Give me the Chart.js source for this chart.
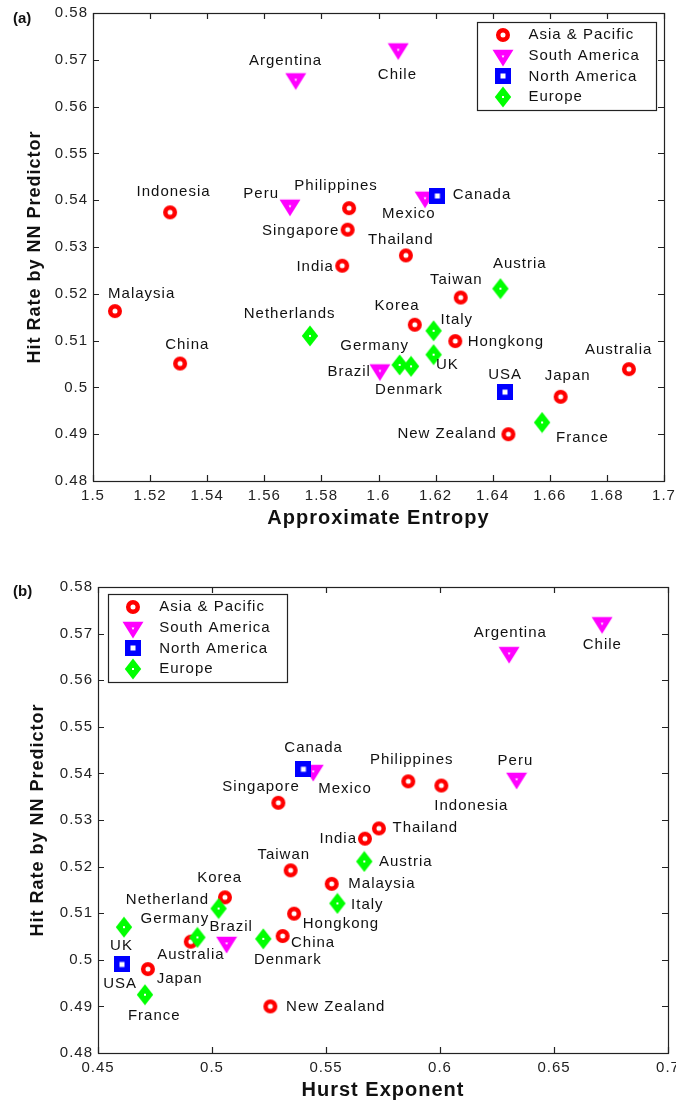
<!DOCTYPE html>
<html><head><meta charset="utf-8">
<script src="https://cdn.jsdelivr.net/npm/chart.js@4.4.1/dist/chart.umd.min.js"></script>
<style>
html,body{margin:0;padding:0;background:#fff;}
.wrap{position:relative;width:676px;height:552px;}
canvas{display:block;}
</style></head><body>
<div class="wrap"><canvas id="ca" width="676" height="552"></canvas></div>
<div class="wrap"><canvas id="cb" width="676" height="552"></canvas></div>
<script>
// ---------------- DATA ----------------
const asiaNames  = ['Indonesia','Malaysia','China','Philippines','Singapore','India','Thailand','Taiwan','Korea','Hongkong','Australia','Japan','New Zealand'];
const asiaHit    = [0.5374,0.5163,0.5051,0.5383,0.5337,0.5260,0.5282,0.5192,0.5134,0.5099,0.5039,0.4980,0.4900];
const asiaApEn   = [1.5270,1.5077,1.5305,1.5897,1.5892,1.5873,1.6096,1.6288,1.6127,1.6269,1.6877,1.6638,1.6455];
const asiaHurst  = [0.6006,0.5525,0.5310,0.5861,0.5291,0.5671,0.5732,0.5345,0.5057,0.5360,0.4907,0.4719,0.5256];

const saNames    = ['Argentina','Chile','Peru','Mexico','Brazil'];
const saHit      = [0.5656,0.5720,0.5386,0.5403,0.5034];
const saApEn     = [1.5710,1.6069,1.5690,1.6163,1.6005];
const saHurst    = [0.6303,0.6711,0.6336,0.5444,0.5064];

const naNames    = ['Canada','USA'];
const naHit      = [0.5409,0.4990];
const naApEn     = [1.6206,1.6443];
const naHurst    = [0.5401,0.4605];

const euNames    = ['Austria','Netherlands','Italy','UK','Germany','Denmark','France'];
const euNamesB   = ['Austria','Netherland','Italy','UK','Germany','Denmark','France'];
const euHit      = [0.5211,0.5110,0.5121,0.5070,0.5048,0.5045,0.4925];
const euApEn     = [1.6427,1.5760,1.6193,1.6193,1.6074,1.6114,1.6573];
const euHurst    = [0.5668,0.5029,0.5550,0.4614,0.4936,0.5225,0.4706];

const regionNames = ['Asia & Pacific','South America','North America','Europe'];

const xTicksA      = [1.5,1.52,1.54,1.56,1.58,1.6,1.62,1.64,1.66,1.68,1.7];
const xTickLabelsA = ['1.5','1.52','1.54','1.56','1.58','1.6','1.62','1.64','1.66','1.68','1.7'];
const xTicksB      = [0.45,0.5,0.55,0.6,0.65,0.7];
const xTickLabelsB = ['0.45','0.5','0.55','0.6','0.65','0.7'];
const yTicks       = [0.48,0.49,0.5,0.51,0.52,0.53,0.54,0.55,0.56,0.57,0.58];
const yTickLabels  = ['0.48','0.49','0.5','0.51','0.52','0.53','0.54','0.55','0.56','0.57','0.58'];

// ---------------- LABEL PLACEMENT (pixel offsets from the mark) ----------------
const labelPosA = {
  'Argentina':[-10.7,-20,'c'],'Chile':[-1.3,24.7,'c'],'Indonesia':[3,-20.3,'c'],'Peru':[-12,-12.7,'r'],
  'Philippines':[-13.5,-21.8,'c'],'Singapore':[-9.4,1.2,'r'],'Mexico':[-16.7,15,'c'],'Canada':[15.4,-1.2,'l'],
  'Thailand':[-5.7,-15.6,'c'],'India':[-9.3,0.8,'r'],'Malaysia':[26.2,-16.8,'c'],'China':[6.7,-18.2,'c'],
  'Netherlands':[-20.8,-22,'c'],'Taiwan':[-4.9,-17.8,'c'],'Austria':[18.9,-24.3,'c'],'Korea':[-18.2,-19,'c'],
  'Italy':[7,-11,'l'],'Hongkong':[12.4,1,'l'],'Germany':[-25.5,-18.9,'c'],'UK':[2.3,10,'l'],
  'Brazil':[-10,0.3,'r'],'Denmark':[-2.5,23.7,'c'],'USA':[-0.3,-17.2,'c'],'Japan':[6.5,-21.2,'c'],
  'Australia':[-10.7,-19.7,'c'],'New Zealand':[-12.6,-0.8,'r'],'France':[14,15,'l']
};
const labelPosB = {
  'Canada':[9.7,-21.8,'c'],'Singapore':[-17.8,-15.5,'c'],'Mexico':[5,17,'l'],'Argentina':[0.7,-21.2,'c'],
  'Chile':[-0.3,20.4,'c'],'Philippines':[2.9,-21.3,'c'],'Indonesia':[29.5,20.5,'c'],'Peru':[-1.7,-18.8,'c'],
  'Thailand':[13.7,-0.7,'l'],'Taiwan':[-7.4,-15.8,'c'],'Korea':[-5.8,-19,'c'],'Netherland':[-10.4,-9.1,'r'],
  'Germany':[-23.1,-18.1,'c'],'Brazil':[4.1,-17.5,'c'],'UK':[-3,18.5,'c'],'Australia':[-0.4,12.9,'c'],
  'USA':[-2.3,19.5,'c'],'Japan':[8.7,9.5,'l'],'France':[8.8,21.2,'c'],'Denmark':[24,21.5,'c'],
  'China':[8.3,7.2,'l'],'Hongkong':[8.7,10.2,'l'],'New Zealand':[15.7,0.3,'l'],'India':[-9,0,'r'],
  'Austria':[14.7,0,'l'],'Malaysia':[16.6,0.5,'l'],'Italy':[13.7,1.8,'l']
};

// ---------------- MARKERS ----------------
function mk(w,h,draw){const c=document.createElement('canvas');c.width=w;c.height=h;draw(c.getContext('2d'));return c;}
const mCircle = mk(16,16,g=>{g.strokeStyle='#ff0000';g.lineWidth=4.5;g.beginPath();g.arc(8,8,4.75,0,Math.PI*2);g.stroke();});
const mTri = mk(22,22,g=>{g.fillStyle='#ff00ff';g.beginPath();g.moveTo(0.5,3.7);g.lineTo(21.5,3.7);g.lineTo(11,20.5);g.closePath();g.fill();
  g.fillStyle='#fff';g.beginPath();g.moveTo(9.6,9.6);g.lineTo(12.4,9.6);g.lineTo(11,12);g.closePath();g.fill();});
const mSq = mk(16,16,g=>{g.fillStyle='#0000ff';g.fillRect(0,0,16,16);g.fillStyle='#fff';g.fillRect(5.5,5.5,5,5);});
const mDia = mk(18,22,g=>{g.fillStyle='#00ff00';g.beginPath();g.moveTo(9,0.5);g.lineTo(17.2,11);g.lineTo(9,21.5);g.lineTo(0.8,11);g.closePath();g.fill();
  g.fillStyle='#fff';g.fillRect(8,10,2,2);});

const FONT = "'Liberation Sans', Arial, Helvetica, sans-serif";

function pts(xs, ys){ return xs.map((x,i)=>({x:x, y:ys[i]})); }

function makeDeco(cfg){
  return {
    id:'deco',
    beforeDraw(chart){ chart.ctx.letterSpacing='1px'; },
    beforeDatasetsDraw(chart){
      const ctx=chart.ctx,a=chart.chartArea,xs=chart.scales.x,ys=chart.scales.y;
      ctx.save();
      ctx.strokeStyle='#222';ctx.lineWidth=1.2;
      ctx.beginPath();
      xs.ticks.forEach(t=>{const p=Math.round(xs.getPixelForValue(t.value))+0.5;
        ctx.moveTo(p,a.bottom);ctx.lineTo(p,a.bottom-6);ctx.moveTo(p,a.top);ctx.lineTo(p,a.top+6);});
      ys.ticks.forEach(t=>{const p=Math.round(ys.getPixelForValue(t.value))+0.5;
        ctx.moveTo(a.left,p);ctx.lineTo(a.left+6,p);ctx.moveTo(a.right,p);ctx.lineTo(a.right-6,p);});
      ctx.stroke();
      ctx.strokeRect(a.left+0.5,a.top+0.5,a.right-a.left,a.bottom-a.top);
      ctx.restore();
    },
    afterDatasetsDraw(chart){
      const ctx=chart.ctx;
      ctx.save();
      ctx.font='15px '+FONT;ctx.letterSpacing='1px';ctx.fillStyle='#111';ctx.textBaseline='middle';ctx.textAlign='left';
      chart.data.datasets.forEach((d,di)=>{
        const meta=chart.getDatasetMeta(di);
        meta.data.forEach((pt,i)=>{
          const name=d.names[i];const p=cfg.pos[name];if(!p)return;
          let x=pt.x+p[0],y=pt.y+p[1];
          const w=ctx.measureText(name).width-1;
          if(p[2]==='c')x-=w/2;else if(p[2]==='r')x-=w;
          ctx.fillText(name,x,y);
        });
      });
      ctx.restore();
    },
    afterDraw(chart){
      const ctx=chart.ctx,a=chart.chartArea;
      ctx.save();
      // legend
      ctx.letterSpacing='1px';ctx.font='15px '+FONT;
      const ds=chart.data.datasets;
      let tw=0;ds.forEach(d=>{tw=Math.max(tw,ctx.measureText(d.label).width);});
      const w=Math.round(51+tw+17),h=88;
      const x0=cfg.corner==='tr'?a.right-cfg.gapX-w:a.left+cfg.gapX;
      const y0=a.top+cfg.gapY;
      ctx.fillStyle='#fff';ctx.fillRect(x0,y0,w,h);
      ctx.strokeStyle='#222';ctx.lineWidth=1.2;ctx.strokeRect(Math.round(x0)+0.5,Math.round(y0)+0.5,w,h);
      ds.forEach((d,i)=>{
        const cy=y0+12.7+i*20.7;
        const img=d.pointStyle;
        ctx.drawImage(img,Math.round(x0+25.5-img.width/2),Math.round(cy-img.height/2+(i===1?1.5:0)));
        ctx.fillStyle='#111';ctx.textBaseline='middle';ctx.textAlign='left';
        ctx.fillText(d.label,x0+51.5,cy);
      });
      // panel label
      ctx.font='bold 15px '+FONT;ctx.letterSpacing='0px';ctx.fillStyle='#111';
      ctx.fillText(cfg.panel,13,cfg.panelY);
      ctx.restore();
    }
  };
}

function makeChart(id, xKey, xTicks, xTickLabels, xMin, xMax, xTitle, eu, geom, deco){
  const datasets=[
    {label:regionNames[0],data:pts(xKey.asia,asiaHit),names:asiaNames,pointStyle:mCircle,pointRadius:7,order:4},
    {label:regionNames[1],data:pts(xKey.sa,saHit),names:saNames,pointStyle:mTri,pointRadius:7,order:3},
    {label:regionNames[2],data:pts(xKey.na,naHit),names:naNames,pointStyle:mSq,pointRadius:7,order:2},
    {label:regionNames[3],data:pts(xKey.eu,euHit),names:eu,pointStyle:mDia,pointRadius:7,order:1}
  ];
  return new Chart(document.getElementById(id),{
    type:'scatter',
    data:{datasets},
    options:{
      responsive:false,animation:false,devicePixelRatio:1,events:[],
      layout:{padding:{top:geom.top,right:geom.right,left:0,bottom:0}},
      plugins:{legend:{display:false},tooltip:{enabled:false}},
      scales:{
        x:{type:'linear',min:xMin,max:xMax,
          afterBuildTicks:s=>{s.ticks=xTicks.map(v=>({value:v}));},
          afterFit:s=>{s.height=geom.xh;s.paddingLeft=0;s.paddingRight=0;},
          ticks:{autoSkip:false,maxRotation:0,minRotation:0,padding:geom.xtp,color:'#222',font:{family:FONT,size:15},
            callback:(v,i)=>xTickLabels[i]},
          grid:{display:false,drawTicks:false},border:{display:false},
          title:{display:true,text:xTitle,color:'#111',font:{family:FONT,size:20,weight:'bold'},padding:{top:0,bottom:geom.xtitlePad}}
        },
        y:{type:'linear',min:0.48,max:0.58,
          afterBuildTicks:s=>{s.ticks=yTicks.map(v=>({value:v}));},
          afterFit:s=>{s.width=geom.yw;s.paddingTop=0;s.paddingBottom=0;},
          ticks:{autoSkip:false,padding:5,color:'#222',font:{family:FONT,size:15},
            callback:(v,i)=>yTickLabels[i]},
          grid:{display:false,drawTicks:false},border:{display:false},
          title:{display:true,text:'Hit Rate by NN Predictor',color:'#111',font:{family:FONT,size:18,weight:'bold'},padding:{top:geom.ytitlePad,bottom:0}}
        }
      }
    },
    plugins:[makeDeco(deco)]
  });
}

makeChart('ca',{asia:asiaApEn,sa:saApEn,na:naApEn,eu:euApEn},xTicksA,xTickLabelsA,1.5,1.7,'Approximate Entropy',euNames,
  {top:13,right:12,xh:71,yw:93,xtp:6,xtitlePad:21.7,ytitlePad:24.7},
  {pos:labelPosA,corner:'tr',gapX:8,gapY:9.3,panel:'(a)',panelY:18.5});
makeChart('cb',{asia:asiaHurst,sa:saHurst,na:naHurst,eu:euHurst},xTicksB,xTickLabelsB,0.45,0.7,'Hurst Exponent',euNamesB,
  {top:35,right:8,xh:51,yw:98,xtp:5.5,xtitlePad:2,ytitlePad:27},
  {pos:labelPosB,corner:'tl',gapX:9.7,gapY:7.3,panel:'(b)',panelY:39.5});
</script>
</body></html>
